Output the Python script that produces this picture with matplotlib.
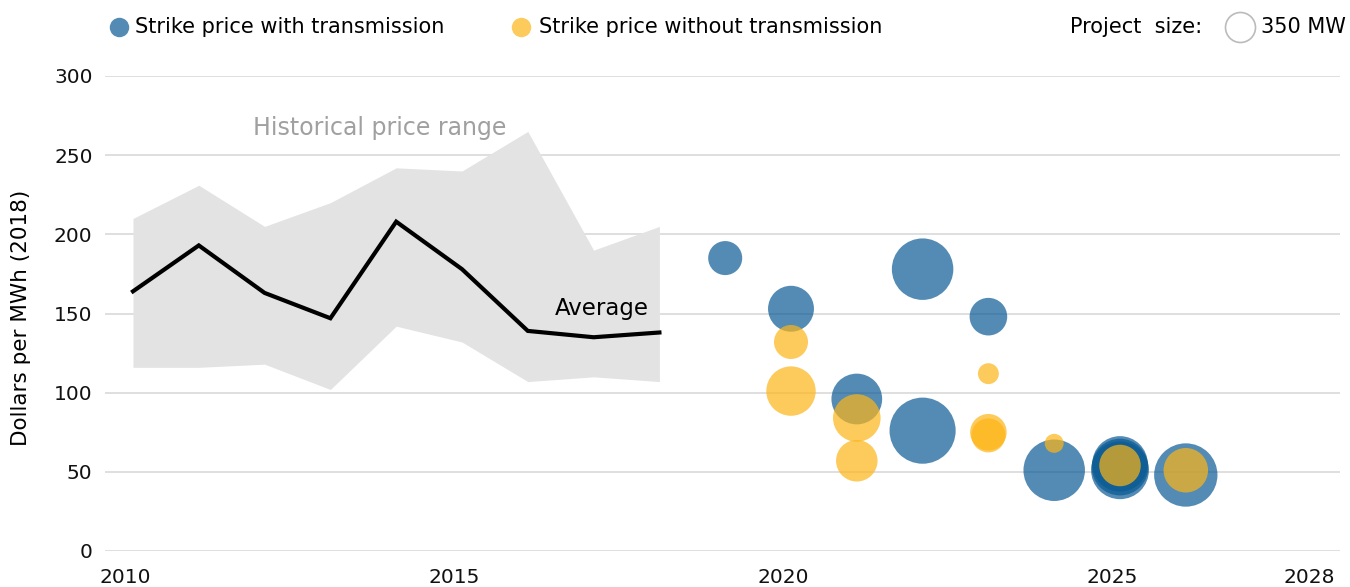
import numpy as np
import matplotlib.pyplot as plt
import matplotlib.transforms as mtransforms
from matplotlib.lines import Line2D

plt.rcParams['font.family'] = ['DejaVu Sans']

# historical prices
hist_years = [2010, 2011, 2012, 2013, 2014, 2015, 2016, 2017, 2018]
hist_avg = [164, 193, 163, 147, 208, 178, 139, 135, 138]
hist_low = [116, 116, 118, 102, 142, 132, 107, 110, 107]
hist_high = [210, 231, 205, 220, 242, 240, 265, 190, 205]

# strike price with transmission (year, $/MWh, MW)
with_year = [2019, 2020, 2021, 2022, 2022, 2023, 2024, 2025, 2025, 2025, 2026]
with_price = [185, 153, 96, 178, 76, 148, 51, 55, 53, 51, 48]
with_mw = [450, 820, 1000, 1470, 1700, 550, 1470, 1200, 1250, 1300, 1560]

# strike price without transmission
wo_year = [2020, 2020, 2021, 2021, 2023, 2023, 2023, 2024, 2025, 2026]
wo_price = [132, 101, 84, 57, 112, 75, 73, 68, 54, 51]
wo_mw = [450, 950, 880, 670, 170, 520, 450, 140, 670, 770]

blue = '#0a5a94'
yellow = '#fdb516'
ref_mw = 350
dpi = 100


def bubble_size(mw):
    # 350 MW -> 15 px radius
    r_pt = 15 * np.sqrt(np.asarray(mw) / ref_mw) * 72 / dpi
    return (2 * r_pt) ** 2


fig = plt.figure(figsize=(13.5, 5.87), dpi=dpi)
ax = fig.add_axes([105 / 1350, 1 - 551 / 587, 1235 / 1350, 475 / 587])

ax.fill_between(hist_years, hist_low, hist_high, color='#e3e3e3', lw=0, zorder=1)
ax.plot(hist_years, hist_avg, color='black', lw=3, zorder=3, solid_joinstyle='miter')

ax.scatter(with_year, with_price, s=bubble_size(with_mw), color=blue, alpha=0.7,
           lw=0, zorder=4)
ax.scatter(wo_year, wo_price, s=bubble_size(wo_mw), color=yellow, alpha=0.7,
           lw=0, zorder=5)

ax.text(2013.75, 267, 'Historical price range', color='#a0a0a0', fontsize=17,
        family='Liberation Sans Narrow', ha='center', va='center')
ax.text(2017.13, 153, 'Average', color='black', fontsize=16.5,
        family='Liberation Sans Narrow', ha='center', va='center', zorder=6)

ax.set_xlim(2010 - 28 / 65.8, 2010 + 1207 / 65.8)
ax.set_ylim(0, 300)
ax.set_xticks([2010, 2015, 2020, 2025, 2028])
ax.set_yticks([0, 50, 100, 150, 200, 250, 300])
ax.yaxis.grid(True, color='#d6d6d6', lw=1.1)
ax.set_axisbelow(True)
for s in ax.spines.values():
    s.set_visible(False)
ax.tick_params(axis='both', length=0, labelsize=14.5, colors='#111111')
ax.tick_params(axis='y', pad=9)
ax.tick_params(axis='x', pad=12)
shift = mtransforms.ScaledTranslation(-8 / dpi, 0, fig.dpi_scale_trans)
for lab in ax.get_xticklabels():
    lab.set_transform(lab.get_transform() + shift)
ax.set_ylabel('Dollars per MWh (2018)', fontsize=15.5)
ax.yaxis.set_label_coords(-74 / 1235, 0.49)

# legend row
fig.add_artist(Line2D([119 / 1350], [1 - 27 / 587], marker='o', ms=14, color=blue,
                      alpha=0.7, mec='none', transform=fig.transFigure))
fig.text(135 / 1350, 1 - 27 / 587, 'Strike price with transmission', fontsize=15,
         va='center')
fig.add_artist(Line2D([521 / 1350], [1 - 27 / 587], marker='o', ms=14, color=yellow,
                      alpha=0.7, mec='none', transform=fig.transFigure))
fig.text(539 / 1350, 1 - 27 / 587, 'Strike price without transmission', fontsize=15,
         va='center')
fig.text(1070 / 1350, 1 - 27 / 587, 'Project  size:', fontsize=15, va='center')
fig.add_artist(Line2D([1240 / 1350], [1 - 27 / 587], marker='o', ms=21.6, mfc='white',
                      mec='#bbbbbb', mew=1.2, transform=fig.transFigure))
fig.text(1261 / 1350, 1 - 27 / 587, '350 MW', fontsize=15, va='center')

fig.savefig('out.png', dpi=dpi)
